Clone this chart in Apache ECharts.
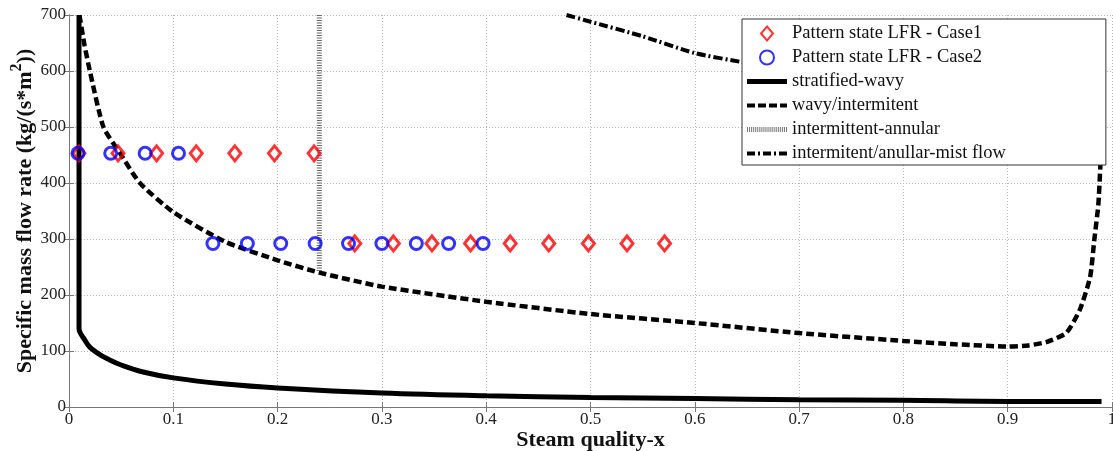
<!DOCTYPE html>
<html>
<head>
<meta charset="utf-8">
<script src="https://cdn.jsdelivr.net/npm/echarts@6/dist/echarts.min.js"></script>
<style>
  html, body { margin: 0; padding: 0; background: #fff; }
  #main { width: 1113px; height: 451px; }
</style>
</head>
<body>
<div id="main"></div>
<script>
// flow pattern map, LFR cases

// Case1 (red diamonds)
const case1X = [0.0096, 0.047, 0.084, 0.122, 0.159, 0.197, 0.235,
  0.274, 0.311, 0.348, 0.385, 0.423, 0.460, 0.498, 0.535, 0.571];
const case1Y = [453, 453, 453, 453, 453, 453, 453,
  292, 292, 292, 292, 292, 292, 292, 292, 292];

// Case2 (blue circles)
const case2X = [0.0086, 0.040, 0.073, 0.105,
  0.138, 0.171, 0.203, 0.236, 0.268, 0.300, 0.333, 0.364, 0.397];
const case2Y = [453, 453, 453, 453,
  292, 292, 292, 292, 292, 292, 292, 292, 292];

// stratified-wavy
const stratX = [0.0096, 0.0096, 0.015, 0.02, 0.03, 0.04, 0.05, 0.07, 0.1, 0.15, 0.2, 0.3, 0.4, 0.5, 0.6, 0.7, 0.8, 0.9, 0.99];
const stratY = [700, 140, 120, 107, 93, 83, 75, 63, 52, 41, 34, 25, 20, 17, 15, 13, 12, 10, 10];

// wavy/intermitent
const wavyX = [0.01, 0.015, 0.02, 0.033, 0.049, 0.068, 0.1, 0.15, 0.2, 0.24, 0.3, 0.4, 0.5, 0.6, 0.7, 0.8, 0.85, 0.9,
  0.92, 0.937, 0.956, 0.969, 0.979, 0.983, 0.987, 0.99];
const wavyY = [700, 645, 600, 500, 453, 400, 348, 295, 262, 240, 215, 188, 166, 150, 132, 118, 112, 108,
  110, 116, 132, 173, 232, 298, 364, 480];

// intermittent-annular
const annX = [0.24, 0.24];
const annY = [700, 240];

// intermitent/anullar-mist flow
const mistX = [0.477, 0.5, 0.55, 0.6, 0.645, 0.7, 0.8, 0.9, 0.95, 0.98];
const mistY = [700, 688, 662, 632, 616, 600, 575, 555, 540, 515];

function pairs(xs, ys) {
  return xs.map(function (x, i) { return [x, ys[i]]; });
}

const serif = '"Liberation Serif", "Times New Roman", serif';
const chart = echarts.init(document.getElementById('main'));

// legend icons drawn as little paths (line series would add a dot otherwise)
const iconSolid = 'path://M0,0h40v5h-40z';
const iconDash = 'path://M0,0h8v4h-8z M11,0h8v4h-8z M22,0h8v4h-8z M33,0h7v4h-7z';
const iconHatch = 'path://M0,0h1v5h-1z M2,0h1v5h-1z M4,0h1v5h-1z M6,0h1v5h-1z M8,0h1v5h-1z M10,0h1v5h-1z ' +
  'M12,0h1v5h-1z M14,0h1v5h-1z M16,0h1v5h-1z M18,0h1v5h-1z M20,0h1v5h-1z M22,0h1v5h-1z M24,0h1v5h-1z ' +
  'M26,0h1v5h-1z M28,0h1v5h-1z M30,0h1v5h-1z M32,0h1v5h-1z M34,0h1v5h-1z M36,0h1v5h-1z M38,0h1v5h-1z';
const iconDashDot = 'path://M0,0h8v4h-8z M11,0h2v4h-2z M16,0h8v4h-8z M27,0h2v4h-2z M32,0h8v4h-8z';

const option = {
  animation: false,
  backgroundColor: '#fff',
  grid: { left: 69, right: 1, top: 15, bottom: 44, outerBoundsMode: 'none', containLabel: false },
  legend: {
    orient: 'vertical',
    left: 742,
    top: 19,
    padding: [5, 100, 2, 5],
    itemGap: 5,
    itemWidth: 40,
    itemHeight: 14,
    backgroundColor: '#fff',
    borderColor: '#333',
    borderWidth: 1,
    z: 10,
    textStyle: { fontFamily: serif, fontSize: 18.5, color: '#111' },
    data: [
      { name: 'Pattern state LFR - Case1', icon: 'path://M6,0 L12,7 L6,14 L0,7 Z' },
      { name: 'Pattern state LFR - Case2', icon: 'circle' },
      { name: 'stratified-wavy', icon: iconSolid, itemStyle: { color: '#000', borderWidth: 0 } },
      { name: 'wavy/intermitent', icon: iconDash, itemStyle: { color: '#000', borderWidth: 0 } },
      { name: 'intermittent-annular', icon: iconHatch, itemStyle: { color: '#777', borderWidth: 0 } },
      { name: 'intermitent/anullar-mist flow', icon: iconDashDot, itemStyle: { color: '#000', borderWidth: 0 } }
    ]
  },
  xAxis: [{
    type: 'value',
    min: 0, max: 1, interval: 0.1,
    name: 'Steam quality-x',
    nameLocation: 'middle',
    nameGap: 22,
    nameMoveOverlap: false,
    nameTextStyle: { fontFamily: serif, fontSize: 22, fontWeight: 'bold', color: '#111' },
    axisLine: { lineStyle: { color: '#777' } },
    axisTick: { inside: true, length: 5, lineStyle: { color: '#777' } },
    axisLabel: {
      fontFamily: serif, fontSize: 17, color: '#222', margin: 4,
      formatter: function (v) { return (v === 0 || v === 1) ? String(v) : v.toFixed(1); }
    },
    splitLine: { show: true, lineStyle: { color: '#b5b5b5', type: [1, 2] } }
  }, {
    type: 'value', position: 'top',
    min: 0, max: 1, interval: 0.1,
    axisLine: { show: true, lineStyle: { color: '#777' } },
    axisTick: { inside: true, length: 5, lineStyle: { color: '#777' } },
    axisLabel: { show: false },
    splitLine: { show: false }
  }],
  yAxis: [{
    type: 'value',
    min: 0, max: 700, interval: 100,
    name: 'Specific mass flow rate (kg/(s*m{sup|2}))',
    nameLocation: 'middle',
    nameGap: 28,
    nameMoveOverlap: false,
    nameTextStyle: {
      fontFamily: serif, fontSize: 22, fontWeight: 'bold', color: '#111',
      rich: { sup: { fontFamily: serif, fontSize: 16, fontWeight: 'bold', color: '#111', padding: [0, 0, 16, 0] } }
    },
    axisLine: { show: true, lineStyle: { color: '#777' } },
    axisTick: { inside: true, length: 5, lineStyle: { color: '#777' } },
    axisLabel: { fontFamily: serif, fontSize: 17, color: '#222', margin: 3 },
    splitLine: { show: true, lineStyle: { color: '#b5b5b5', type: [1, 2] } }
  }, {
    type: 'value', position: 'right',
    min: 0, max: 700, interval: 100,
    axisLine: { show: true, lineStyle: { color: '#777' } },
    axisTick: { inside: true, length: 5, lineStyle: { color: '#777' } },
    axisLabel: { show: false },
    splitLine: { show: false }
  }],
  series: [
    {
      name: 'stratified-wavy', type: 'line', symbol: 'none', smooth: 0.35,
      lineStyle: { color: '#000', width: 5 },
      itemStyle: { color: '#000' },
      data: pairs(stratX, stratY)
    },
    {
      name: 'wavy/intermitent', type: 'line', symbol: 'none', smooth: 0.2,
      lineStyle: { color: '#000', width: 4.5, type: [8, 4] },
      itemStyle: { color: '#000' },
      data: pairs(wavyX, wavyY)
    },
    {
      name: 'intermittent-annular', type: 'line', symbol: 'none',
      lineStyle: { color: '#666', width: 5, type: [1, 1.5] },
      itemStyle: { color: '#777' },
      data: pairs(annX, annY)
    },
    {
      name: 'intermitent/anullar-mist flow', type: 'line', symbol: 'none', smooth: 0.2,
      lineStyle: { color: '#000', width: 4, type: [9, 3, 2, 3] },
      itemStyle: { color: '#000' },
      data: pairs(mistX, mistY)
    },
    {
      name: 'Pattern state LFR - Case1', type: 'scatter',
      symbol: 'path://M6,0 L12,7 L6,14 L0,7 Z', symbolSize: [12, 15],
      itemStyle: { color: 'rgba(255,255,255,0)', borderColor: '#ff0000', borderWidth: 3 },
      z: 5,
      data: pairs(case1X, case1Y)
    },
    {
      name: 'Pattern state LFR - Case2', type: 'scatter',
      symbol: 'circle', symbolSize: 12,
      itemStyle: { color: 'rgba(255,255,255,0)', borderColor: '#0000ff', borderWidth: 3 },
      z: 6,
      data: pairs(case2X, case2Y)
    }
  ]
};

chart.setOption(option);
</script>
</body>
</html>
